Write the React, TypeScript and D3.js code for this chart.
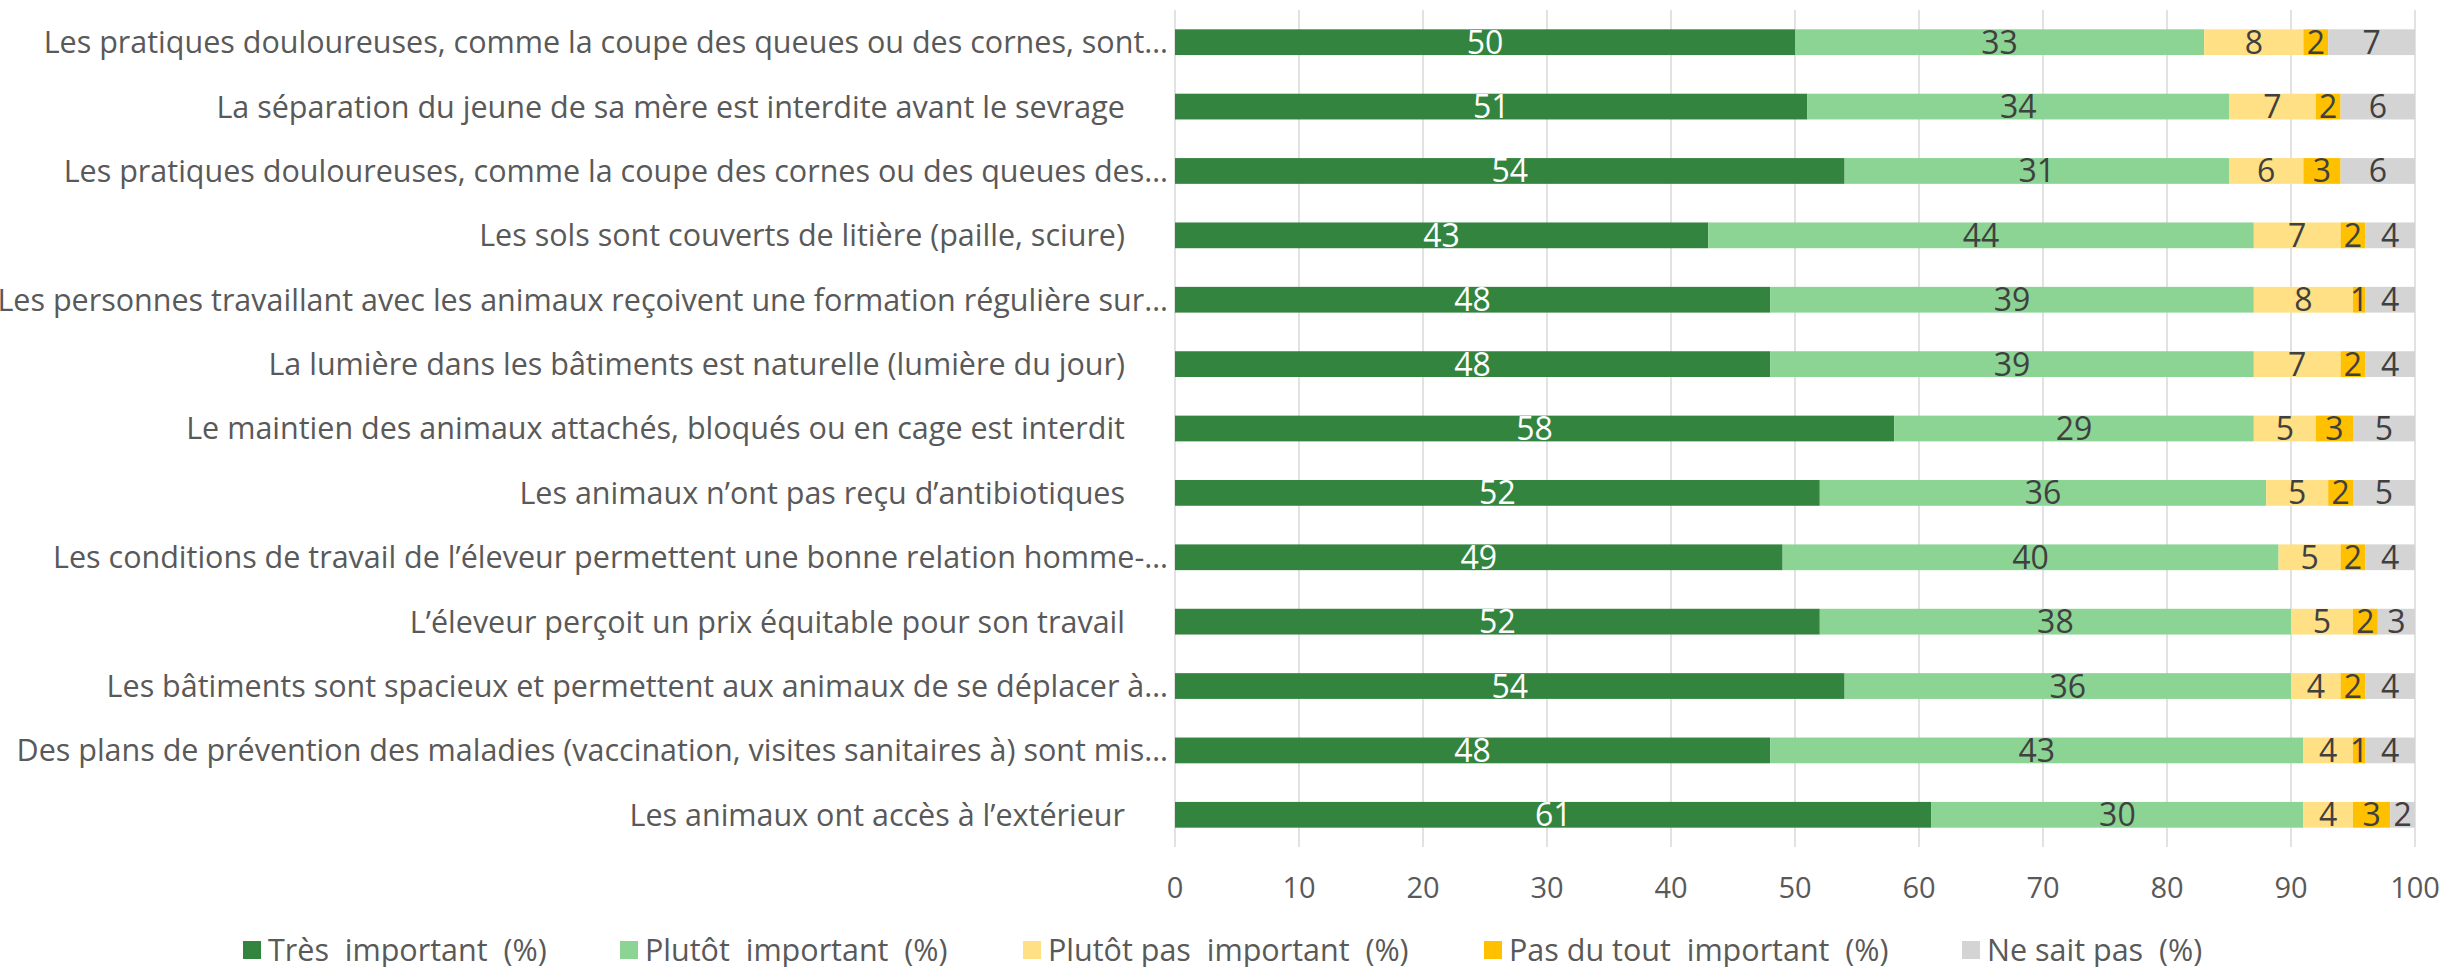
import { scaleBand, scaleLinear, stack } from "d3";

const WIDTH = 2442;
const HEIGHT = 967;

const categories = [
  "Les pratiques douloureuses, comme la coupe des queues ou des cornes, sont…",
  "La séparation du jeune de sa mère est interdite avant le sevrage",
  "Les pratiques douloureuses, comme la coupe des cornes ou des queues des…",
  "Les sols sont couverts de litière (paille, sciure)",
  "Les personnes travaillant avec les animaux reçoivent une formation régulière sur…",
  "La lumière dans les bâtiments est naturelle (lumière du jour)",
  "Le maintien des animaux attachés, bloqués ou en cage est interdit",
  "Les animaux n’ont pas reçu d’antibiotiques",
  "Les conditions de travail de l’éleveur permettent une bonne relation homme-…",
  "L’éleveur perçoit un prix équitable pour son travail",
  "Les bâtiments sont spacieux et permettent aux animaux de se déplacer à…",
  "Des plans de prévention des maladies (vaccination, visites sanitaires à) sont mis…",
  "Les animaux ont accès à l’extérieur",
];

const seriesNames = [
  "Très  important  (%)",
  "Plutôt  important  (%)",
  "Plutôt pas  important  (%)",
  "Pas du tout  important  (%)",
  "Ne sait pas  (%)",
];

const tresImportant = [50, 51, 54, 43, 48, 48, 58, 52, 49, 52, 54, 48, 61];
const plutotImportant = [33, 34, 31, 44, 39, 39, 29, 36, 40, 38, 36, 43, 30];
const plutotPas = [8, 7, 6, 7, 8, 7, 5, 5, 5, 5, 4, 4, 4];
const pasDuTout = [2, 2, 3, 2, 1, 2, 3, 2, 2, 2, 2, 1, 3];
const neSaitPas = [7, 6, 6, 4, 4, 4, 5, 5, 4, 3, 4, 4, 2];

const xTicks = [0, 10, 20, 30, 40, 50, 60, 70, 80, 90, 100];

const COLORS = ["#33843f", "#8bd494", "#ffe084", "#ffc000", "#d4d4d4"];
const LABEL_COLORS = ["#ffffff", "#404040", "#404040", "#404040", "#404040"];
const FONT = "'Open Sans', sans-serif";

const LEGEND_X = [243, 620, 1023, 1484, 1962];

const PLOT = { left: 1175, right: 2415, top: 10, bottom: 847 };

export default function App() {
  const series = [tresImportant, plutotImportant, plutotPas, pasDuTout, neSaitPas];
  const rows = categories.map((name, i) => {
    const row: Record<string, number | string> = { name };
    series.forEach((values, s) => {
      row["s" + s] = values[i];
    });
    return row;
  });
  const keys = series.map((_, s) => "s" + s);
  const stacked = stack<any>().keys(keys)(rows);

  const x = scaleLinear().domain([0, 100]).range([PLOT.left, PLOT.right]);
  const y = scaleBand<string>()
    .domain(categories)
    .range([PLOT.top, PLOT.bottom])
    .paddingInner(0.6)
    .paddingOuter(0.3);
  const bw = y.bandwidth();

  return (
    <div style={{ position: "absolute", left: 0, top: 0 }}>
      <svg width={WIDTH} height={HEIGHT} viewBox={`0 0 ${WIDTH} ${HEIGHT}`} style={{ display: "block", background: "#fff" }}>
        {xTicks.map((t) => (
          <line key={t} x1={x(t)} x2={x(t)} y1={PLOT.top} y2={PLOT.bottom} stroke="#d9d9d9" strokeWidth={1.5} />
        ))}
        {stacked.map((layer, s) => (
          <g key={layer.key}>
            {layer.map((d, i) => (
              <rect
                key={i}
                x={x(d[0])}
                y={y(categories[i])}
                width={x(d[1]) - x(d[0])}
                height={bw}
                fill={COLORS[s]}
              />
            ))}
          </g>
        ))}
        {stacked.map((layer, s) => (
          <g key={"l" + layer.key} fontFamily={FONT} fontSize={32} fill={LABEL_COLORS[s]} textAnchor="middle">
            {layer.map((d, i) => (
              <text key={i} x={(x(d[0]) + x(d[1])) / 2} y={(y(categories[i]) ?? 0) + bw / 2} dy="0.36em">
                {series[s][i]}
              </text>
            ))}
          </g>
        ))}
        <g fontFamily={FONT} fontSize={30.5} fill="#595959" textAnchor="end">
          {categories.map((c) => (
            <text key={c} x={c.endsWith("…") ? 1168 : 1125} y={(y(c) ?? 0) + bw / 2} dy="0.36em">
              {c}
            </text>
          ))}
        </g>
        <g fontFamily={FONT} fontSize={29} fill="#595959" textAnchor="middle">
          {xTicks.map((t) => (
            <text key={t} x={x(t)} y={888} dy="0.36em">
              {t}
            </text>
          ))}
        </g>
        <g fontFamily={FONT} fontSize={30.5} fill="#595959">
          {seriesNames.map((n, s) => (
            <g key={n} transform={`translate(${LEGEND_X[s]},950)`}>
              <rect x={0} y={-9} width={18} height={18} fill={COLORS[s]} />
              <text x={25} dy="0.36em" style={{ whiteSpace: "pre" }}>
                {n}
              </text>
            </g>
          ))}
        </g>
      </svg>
    </div>
  );
}
